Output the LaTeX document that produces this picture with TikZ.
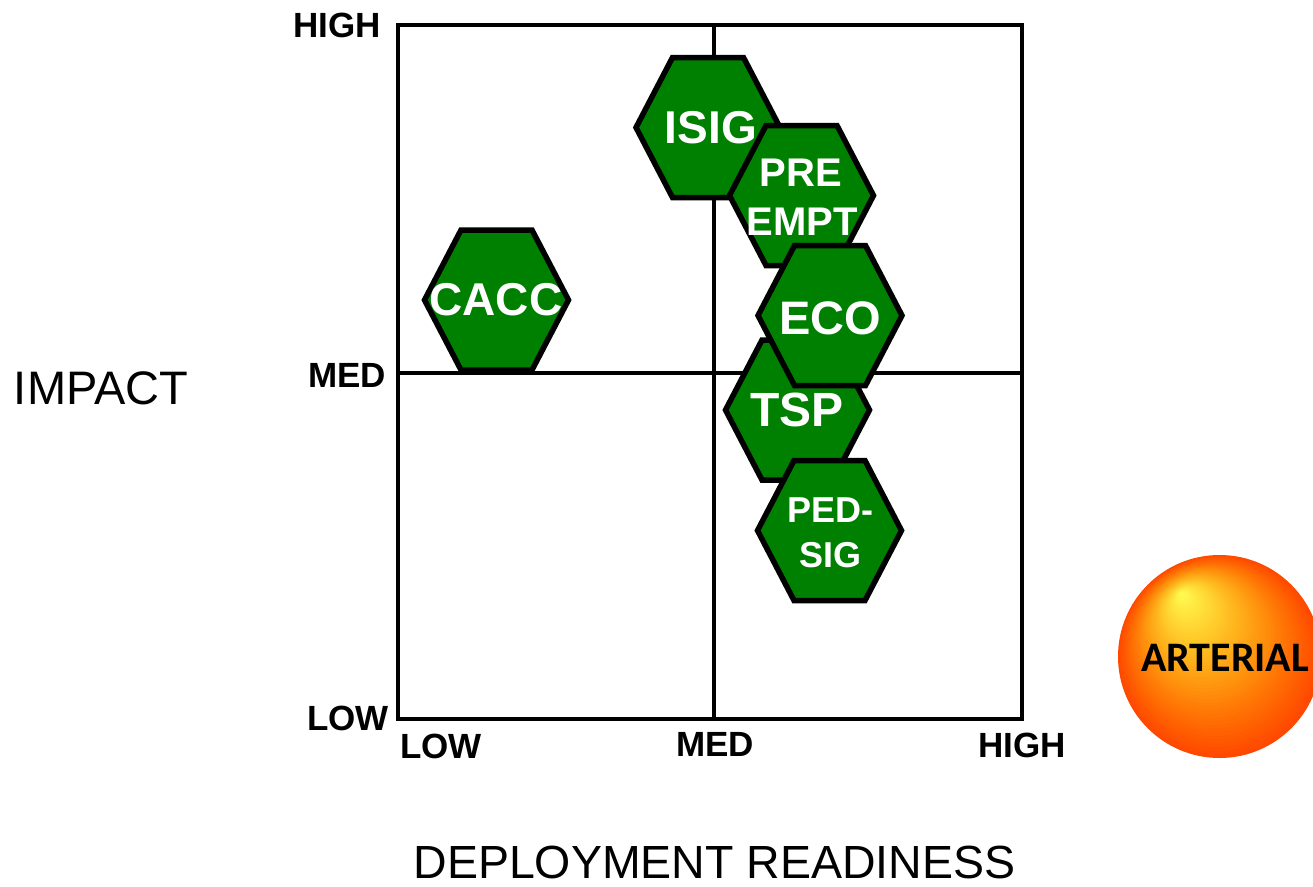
\documentclass[tikz,border=0pt]{standalone}
\usepackage{fontspec}
\usetikzlibrary{calc}
\setmainfont{Liberation Sans}
\newfontfamily\calfont{Carlito}
\definecolor{hexgreen}{RGB}{0,128,0}
\tikzset{
  axlab/.style={font=\bfseries\fontsize{35}{35}\selectfont, inner sep=0pt},
  titlelab/.style={font=\fontsize{47}{47}\selectfont, inner sep=0pt},
  hexlab/.style={font=\bfseries\fontsize{#1}{#1}\selectfont, text=white, inner sep=0pt},
  hexstyle/.style={draw=black, line width=5.5pt, fill=hexgreen, line join=miter},
  frameline/.style={draw=black, line width=4.5pt},
  hexagon/.pic={\path[hexstyle] (-72,0) -- (-35.5,-70) -- (35.5,-70) -- (72,0) -- (35.5,70) -- (-35.5,70) -- cycle;}
}
\begin{document}
\begin{tikzpicture}[x=1pt,y=-1pt]
\useasboundingbox (0,0) rectangle (1313,886);
% frame
\coordinate (tl) at (398,25);
\coordinate (br) at (1022,719);
\coordinate (mt) at (714,25);
\coordinate (mb) at (714,719);
\coordinate (ml) at (398,373);
\coordinate (mr) at (1022,373);
\path[frameline] (tl) rectangle (br);
\path[frameline] (mt) -- (mb);
\path[frameline] (ml) -- (mr);
% hexagons
\pic (hisig) at (708,127.5) {hexagon};
\pic (hpre) at (801.5,195.5) {hexagon};
\pic (htsp) at (797.5,410) {hexagon};
\pic (heco) at (830,315.5) {hexagon};
\pic (hped) at (829.5,530.5) {hexagon};
\pic (hcacc) at (496.5,300) {hexagon};
% hexagon texts
\node[hexlab=46] (tisig) at (711,128) {ISIG};
\node[hexlab=40] (tpre) at (801,173) {PRE};
\node[hexlab=40] (tempt) at (802,222) {EMPT};
\node[hexlab=47] (teco) at (830,318) {ECO};
\node[hexlab=48] (ttsp) at (797,410) {TSP};
\node[hexlab=36] (tped) at (830,510) {PED-};
\node[hexlab=36] (tsig) at (830,555) {SIG};
\node[hexlab=46] (tcacc) at (496,300) {CACC};
% axis labels
\node[axlab] (yhigh) at (337,25) {HIGH};
\node[axlab] (ymed) at (347,375) {MED};
\node[axlab] (ylow) at (348,718) {LOW};
\node[axlab] (xlow) at (441,746) {LOW};
\node[axlab] (xmed) at (715,744) {MED};
\node[axlab] (xhigh) at (1022,745) {HIGH};
\node[titlelab] (impact) at (101,388) {IMPACT};
\node[titlelab, font=\fontsize{46.5}{46.5}\selectfont] (deploy) at (714.5,862) {DEPLOYMENT READINESS};
% arterial ball: banded radial gradient towards a highlight
\coordinate (ballc) at (1219.5,656.5);
\coordinate (ballhl) at (1181,593);
\foreach \i in {0,...,44} {
  \pgfmathsetmacro{\t}{\i/45}
  \pgfmathsetmacro{\gg}{int(72+183*\t)}
  \pgfmathsetmacro{\bb}{int(85*\t*\t)}
  \pgfmathsetmacro{\rr}{101.5*(1-\t)}
  \definecolor{bandcol}{RGB}{255,\gg,\bb}
  \fill[bandcol] ($(ballc)!\t!(ballhl)$) circle (\rr);
}
\node[font=\calfont\bfseries\fontsize{42}{42}\selectfont, inner sep=0pt] (arterial) at (1225,658) {ARTERIAL};
\end{tikzpicture}
\end{document}
